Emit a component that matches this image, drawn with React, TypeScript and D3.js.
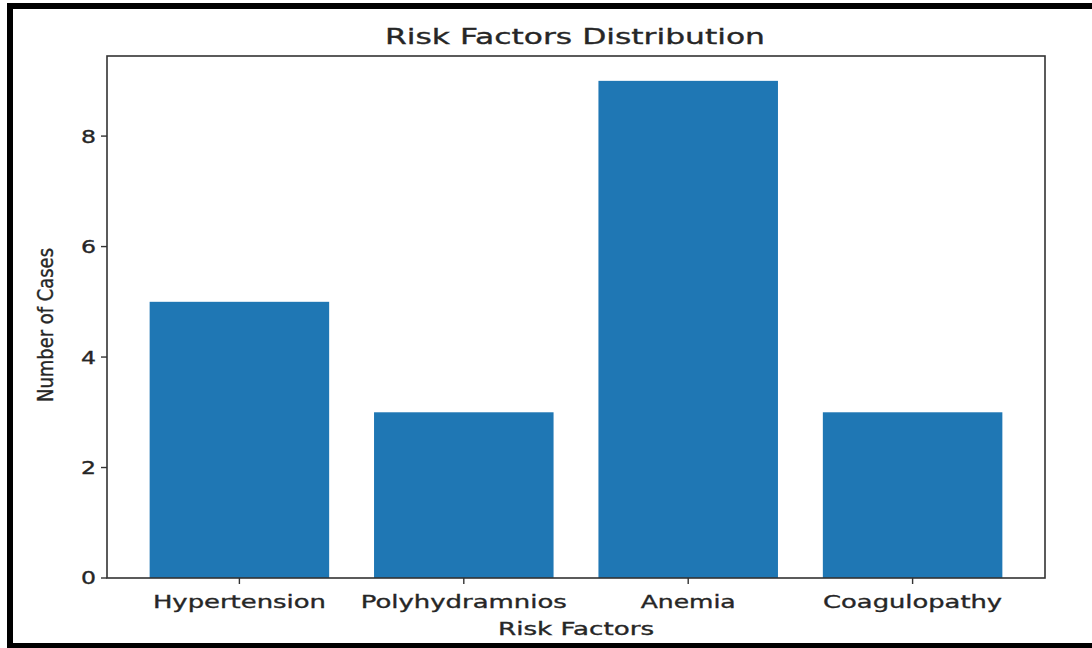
import React from "react";
import * as d3 from "d3";

const categories = ["Hypertension", "Polyhydramnios", "Anemia", "Coagulopathy"];
const values = [5, 3, 9, 3];
const yTicks = [0, 2, 4, 6, 8];
const title = "Risk Factors Distribution";
const xLabel = "Risk Factors";
const yLabel = "Number of Cases";
const tickLabelWidths = [173, 206, 95, 179];

export default function App() {
  const W = 1092, H = 648;
  const left = 107, right = 1045, top = 56, bottom = 578;
  const x = d3.scaleLinear().domain([-0.59, categories.length - 1 + 0.59]).range([left, right]);
  const y = d3.scaleLinear().domain([0, 9.45]).range([bottom, top]);
  const bw = x(0.4) - x(-0.4);
  const font = "'DejaVu Sans', sans-serif";
  const ink = "#333";
  const txt = { fill: "#262626", stroke: "#262626", strokeWidth: 0.35 };
  return (
    <svg width={W} height={H} style={{ position: "absolute", left: 0, top: 0, background: "#fff" }}>
      <rect x={0} y={0} width={W} height={H} fill="#fff" />
      {/* outer frame */}
      <path d={`M${W + 10},6 H10 V646 H${W + 10}`} fill="none" stroke="#000" strokeWidth={6} />
      <text x={575} y={44} textAnchor="middle" fontFamily={font} fontSize={22} {...txt}
        textLength={380} lengthAdjust="spacingAndGlyphs">{title}</text>
      {categories.map((c, i) => (
        <rect key={c} x={x(i) - bw / 2} y={y(values[i])} width={bw} height={y(0) - y(values[i])} fill="#1f77b4" />
      ))}
      <rect x={left} y={top} width={right - left} height={bottom - top} fill="none" stroke={ink} strokeWidth={1.6} />
      {yTicks.map((t) => (
        <g key={t}>
          <line x1={left - 6} x2={left} y1={y(t)} y2={y(t)} stroke={ink} strokeWidth={1.4} />
          <text x={left - 11} y={y(t)} dy="0.36em" textAnchor="end" fontFamily={font} fontSize={18}
            {...txt} textLength={15} lengthAdjust="spacingAndGlyphs">{t}</text>
        </g>
      ))}
      {categories.map((c, i) => (
        <g key={c}>
          <line x1={x(i)} x2={x(i)} y1={bottom} y2={bottom + 6} stroke={ink} strokeWidth={1.4} />
          <text x={x(i)} y={608} textAnchor="middle" fontFamily={font} fontSize={18} {...txt}
            textLength={tickLabelWidths[i]} lengthAdjust="spacingAndGlyphs">{c}</text>
        </g>
      ))}
      <text x={576} y={635} textAnchor="middle" fontFamily={font} fontSize={18} {...txt}
        textLength={156} lengthAdjust="spacingAndGlyphs">{xLabel}</text>
      <text transform={`translate(53,${(248 + 402) / 2}) rotate(-90)`} textAnchor="middle"
        fontFamily="'DejaVu Sans Condensed', 'Liberation Sans Narrow', 'DejaVu Sans', sans-serif" fontSize={22}
        {...txt} textLength={154} lengthAdjust="spacingAndGlyphs">{yLabel}</text>
    </svg>
  );
}
